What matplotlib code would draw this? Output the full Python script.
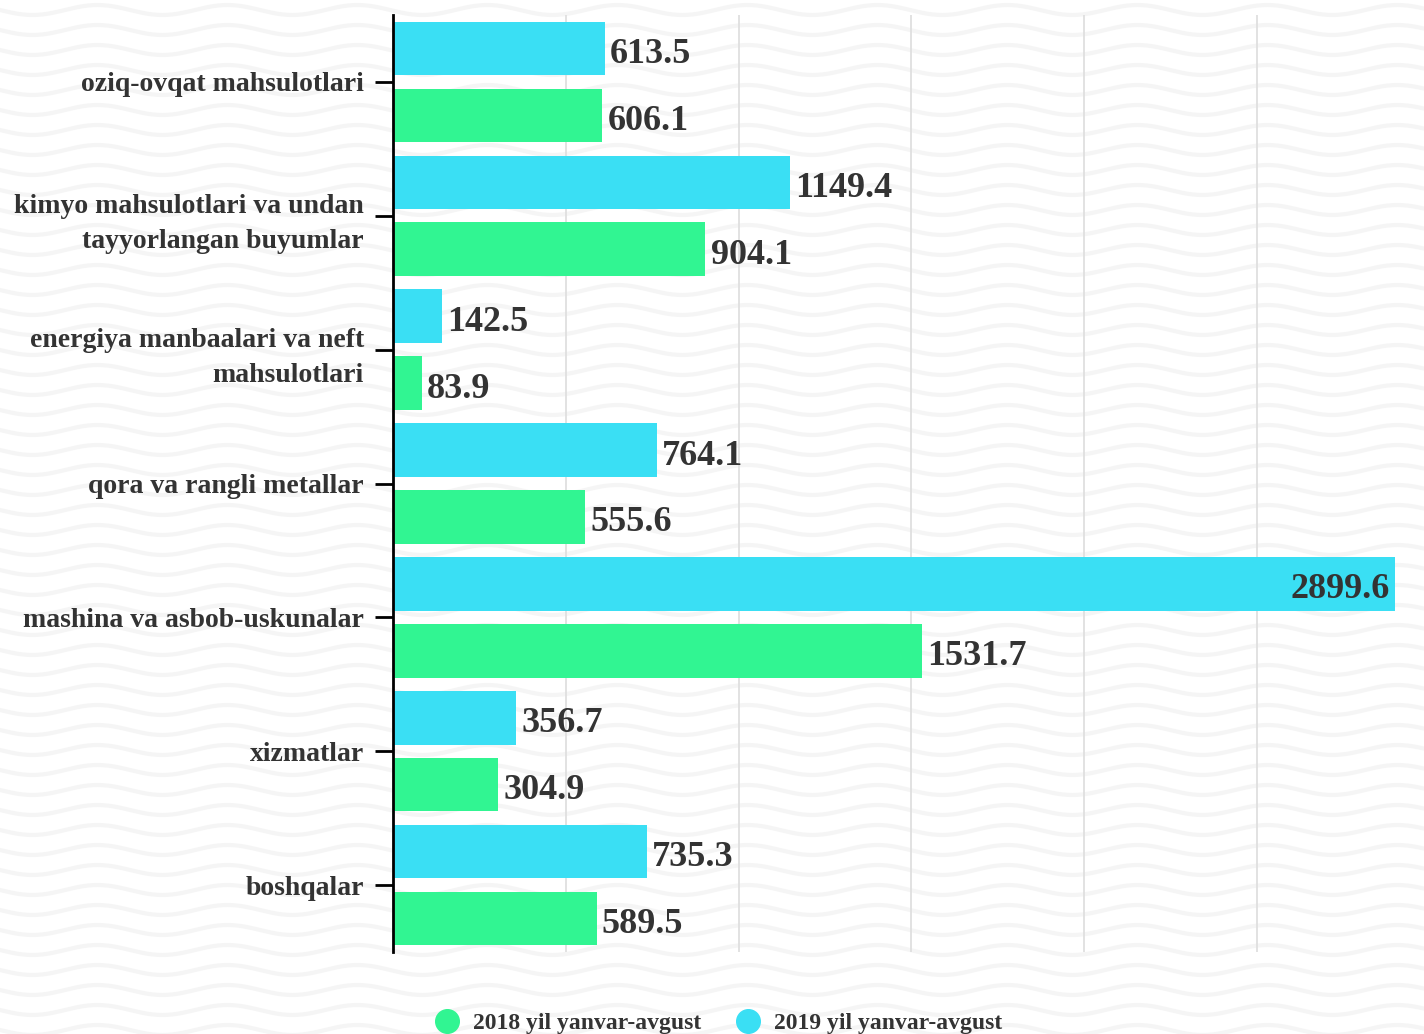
import matplotlib.pyplot as plt
import numpy as np
from matplotlib.lines import Line2D

# data
categories = ["oziq-ovqat mahsulotlari",
              "kimyo mahsulotlari va undan\ntayyorlangan buyumlar",
              "energiya manbaalari va neft\nmahsulotlari",
              "qora va rangli metallar",
              "mashina va asbob-uskunalar",
              "xizmatlar",
              "boshqalar"]
values_2018 = [606.1, 904.1, 83.9, 555.6, 1531.7, 304.9, 589.5]
values_2019 = [613.5, 1149.4, 142.5, 764.1, 2899.6, 356.7, 735.3]
series_names = ["2018 yil yanvar-avgust", "2019 yil yanvar-avgust"]

green = "#31f592"
blue = "#3adff4"
text_col = "#333333"
plt.rcParams['font.family'] = ['Liberation Serif', 'DejaVu Serif']

fig = plt.figure(figsize=(14.24, 10.34), dpi=100)

# wavy background
bg = fig.add_axes([0, 0, 1, 1], zorder=-1)
bg.set_xlim(0, 1424)
bg.set_ylim(1034, 0)
bg.axis("off")
xs = np.linspace(0, 1424, 800)
for y0 in np.arange(-10, 1060, 20):
    bg.plot(xs, y0 + 5 * np.sin(2 * np.pi * xs / 130), color="#f5f5f5", lw=3)

ax = fig.add_axes([393 / 1424, 1 - 952 / 1034, 1002 / 1424, 937 / 1034])
ax.set_facecolor("none")
y = np.arange(len(categories))
h = 0.40
ax.barh(y + 0.25, values_2018, height=h, color=green, label=series_names[0], zorder=2)
ax.barh(y - 0.25, values_2019, height=h, color=blue, label=series_names[1], zorder=2)

ax.set_xlim(0, 2900)
ax.set_ylim(len(categories) - 0.5, -0.5)
ax.set_xticks([500, 1000, 1500, 2000, 2500])
ax.tick_params(axis="x", length=0, labelbottom=False)
ax.grid(axis="x", color="#dddddd", lw=1.2, zorder=0)
ax.set_yticks(y)
ax.set_yticklabels(categories, fontsize=20, fontweight="bold", color=text_col,
                   linespacing=1.55)
ax.tick_params(axis="y", length=13, width=2, color="black", pad=8)
for s in ["top", "right", "bottom"]:
    ax.spines[s].set_visible(False)
ax.spines["left"].set_linewidth(2)

# value labels
for vals, off in [(values_2018, 0.25), (values_2019, -0.25)]:
    for i, v in enumerate(vals):
        if v > 2700:
            ax.text(v - 15, i + off + 0.045, f"{v:.1f}", ha="right", va="center",
                    fontsize=26, fontweight="bold", color=text_col, zorder=3)
        else:
            ax.text(v + 15, i + off + 0.045, f"{v:.1f}", ha="left", va="center",
                    fontsize=26, fontweight="bold", color=text_col, zorder=3)

handles = [Line2D([], [], marker="o", ls="", markersize=17, color=green),
           Line2D([], [], marker="o", ls="", markersize=17, color=blue)]
fig.legend(handles, series_names, loc="center", bbox_to_anchor=(0.5006, 0.010),
           ncol=2, frameon=False, prop={"size": 17, "weight": "bold"},
           labelcolor=text_col, handletextpad=0.1, columnspacing=1.0)

fig.savefig("out.png", dpi=100)
